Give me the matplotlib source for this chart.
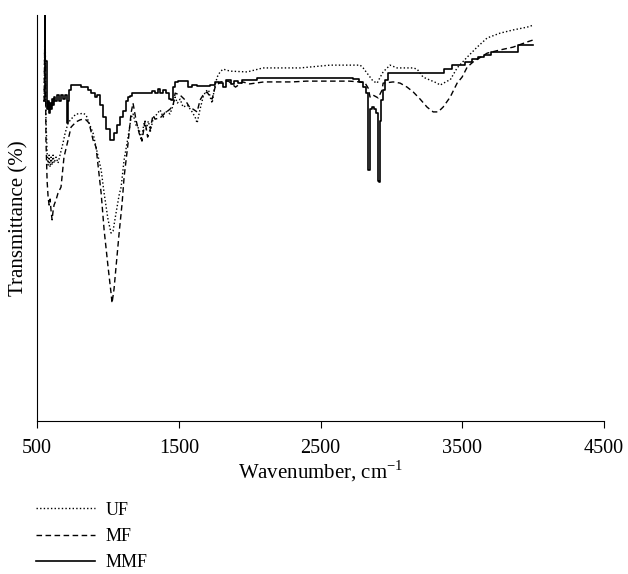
"""FTIR spectra of UF, MF and MMF resins (transmittance vs wavenumber)."""

import matplotlib
matplotlib.use("Agg")
import matplotlib.pyplot as plt  # noqa: E402

plt.rcParams["font.family"] = ["Liberation Serif", "DejaVu Serif"]
plt.rcParams["mathtext.fontset"] = "custom"
plt.rcParams["mathtext.rm"] = "Liberation Serif"

# ---- data (wavenumber cm-1, transmittance a.u.) ----
uf_wn = [550, 556, 563, 571, 578, 585, 592, 599, 606, 613, 620, 634, 648, 655,
         669, 683, 698, 719, 740, 754, 775, 803, 825, 846, 867, 895, 916, 952,
         973, 1001, 1022, 1036, 1057, 1079, 1093, 1114, 1142, 1163, 1177, 1198,
         1220, 1234, 1255, 1270, 1285, 1300, 1318, 1340, 1368, 1390, 1403, 1438,
         1460, 1474, 1490, 1509, 1530, 1560, 1590, 1615, 1629, 1650, 1671, 1690,
         1710, 1721, 1735, 1750, 1770, 1791, 1812, 1862, 1982, 2094, 2356, 2567,
         2779, 2800, 2849, 2870, 2899, 2913, 2941, 2990, 3040, 3153, 3181, 3223,
         3322, 3343, 3393, 3414, 3463, 3534, 3604, 3675, 3766, 3858, 3957, 4000]
uf_t = [80, 101.5, 75, 67, 64, 66.5, 63.5, 66, 64, 66.5, 64.5, 66, 64.5, 65.5,
        67.5, 69.5, 72, 74.5, 75.5, 76, 76.8, 76.8, 77, 76.5, 74.5, 72, 68.5, 62.8,
        57, 50.3, 47, 47.5, 52, 56.5, 58.5, 65.3, 71, 75.8, 76.8, 74,
        73, 70.3, 74.5, 73, 75, 72.5, 75.5, 76.5, 77.8, 76, 77.5, 76.8,
        79, 81, 79.5, 80.5, 78.5, 79, 77.5, 76, 74.5, 78, 81, 82.5,
        82.8, 81, 79.5, 83, 86, 87.3, 88, 87.5, 87.3, 88.3, 88.3, 89,
        89, 88.3, 86, 85, 84.5, 85.5, 87.3, 89, 88.3, 88.3, 88, 86,
        84.5, 84, 85, 85.3, 88.3, 91, 93.5, 95.8, 97, 97.8, 98.5, 99]

mf_wn = [550, 556, 563, 571, 578, 585, 592, 599, 606, 613, 620, 634, 648, 669,
         690, 719, 740, 775, 803, 825, 846, 867, 895, 916, 952, 973, 1001, 1022,
         1029, 1043, 1057, 1079, 1100, 1114, 1142, 1163, 1177, 1198, 1220, 1240,
         1262, 1280, 1297, 1318, 1332, 1368, 1403, 1438, 1460, 1474, 1509, 1544,
         1579, 1600, 1629, 1650, 1671, 1699, 1721, 1735, 1756, 1791, 1850, 1900,
         1950, 2000, 2100, 2200, 2300, 2400, 2500, 2600, 2700, 2779, 2814, 2835,
         2849, 2870, 2906, 2934, 2941, 3012, 3061, 3110, 3153, 3202, 3251, 3294,
         3329, 3364, 3414, 3463, 3498, 3534, 3576, 3675, 3766, 3858, 3957, 4000]
mf_t = [80, 101.5, 70, 60, 56, 54, 55.5, 52.5, 50.3, 52.5, 54, 55.3, 57, 58.5,
        66, 70.3, 73.5, 74.8, 75.3, 75.5, 75.3, 74.5, 70.3, 68.5, 57, 47.8, 38.5, 32,
        29.5, 33, 38.5, 47, 54.5, 61, 69.5, 77, 79.5, 75.3, 72, 70,
        75, 71, 72.8, 76.5, 75.5, 75.8, 77, 78, 79, 82, 81.5, 80.3,
        78.3, 78, 77.3, 80.3, 81.5, 82.3, 81, 80.5, 83.5, 84.8, 85, 83.5,
        84.8, 84.3, 84.8, 84.8, 84.8, 85, 85, 85, 85, 84.8, 84.5, 83.3,
        81, 81.5, 80.8, 82.8, 84.5, 84.8, 84.5, 83.5, 82.3, 80.5, 78.5, 77.3,
        77.3, 78.5, 81, 84.5, 86, 88.5, 89.8, 92, 92.8, 93.5, 94.8, 95.3]

mmf_wn = [550, 556, 563, 571, 578, 585, 592, 599, 606, 613, 620, 634, 648, 662,
          676, 690, 705, 712, 719, 733, 747, 775, 800, 825, 846, 867, 895, 916,
          930, 952, 973, 1001, 1022, 1036, 1050, 1071, 1093, 1114, 1135, 1149,
          1163, 1177, 1300, 1318, 1340, 1360, 1380, 1400, 1417, 1438, 1452, 1466,
          1474, 1509, 1544, 1579, 1600, 1650, 1700, 1735, 1770, 1800, 1820, 1850,
          1880, 1900, 1930, 1960, 2000, 2100, 2200, 2300, 2400, 2500, 2600, 2700,
          2758, 2790, 2814, 2828, 2835, 2842, 2849, 2870, 2885, 2899, 2906, 2913,
          2920, 2934, 2948, 2962, 2990, 3100, 3200, 3300, 3364, 3370, 3420, 3440,
          3505, 3530, 3600, 3625, 3680, 3717, 3800, 3886, 3900, 4000]
mmf_t = [80, 101.5, 90, 78, 80, 77, 79.5, 78, 80.5, 79, 81, 80, 81.5, 80,
         81.5, 80.5, 81.5, 74.5, 80, 82.8, 84, 84, 84, 83.5, 83.5, 82.8, 82, 81,
         81.5, 79, 76, 73, 70.3, 70.3, 72, 74, 76, 77.5, 80, 81,
         81.3, 82, 82, 82.5, 82, 83, 82, 82.8, 82, 80.5, 80.3, 83.5,
         84.8, 85, 85, 83.5, 84, 83.8, 83.8, 84, 84.8, 84.5, 83.5, 85.3,
         84.3, 85, 84.5, 85.3, 85.3, 85.8, 85.8, 85.8, 85.8, 85.8, 85.8, 85.8,
         85.5, 84.8, 83.5, 82, 62.8, 62.8, 78, 78.5, 78, 77, 60, 59.8,
         75, 80.3, 82.8, 85.3, 87, 87, 87, 87, 87, 88, 88, 89,
         89, 89.8, 90.5, 91, 91.5, 92.3, 92.3, 92.3, 94, 94]

labels = ["UF", "MF", "MMF"]
x_ticks = [500, 1500, 2500, 3500, 4500]


def main():
    fig = plt.figure(figsize=(6.28, 5.74), dpi=100)
    ax = fig.add_axes([0.059, 0.2666, 0.903, 0.707])

    l1, = ax.plot(uf_wn, uf_t, color="black", lw=1.0, ls=(0, (1, 1.6)))
    l2, = ax.plot(mf_wn, mf_t, color="black", lw=1.0, ls=(0, (4, 2.5)))
    l3, = ax.plot(mmf_wn, mmf_t, color="black", lw=1.2, drawstyle="steps-mid")

    ax.set_xlim(500, 4500)
    ax.set_ylim(0, 101.5)
    ax.set_xticks(x_ticks)
    ax.set_yticks([])
    ax.tick_params(axis="x", direction="out", length=5, pad=8, labelsize=14.5)
    for s in ("top", "right"):
        ax.spines[s].set_visible(False)

    ax.set_xlabel(r"Wavenumber, cm$^{\mathrm{-1}}$", fontsize=15, labelpad=0)
    ax.set_ylabel("Transmittance (%)", fontsize=15, labelpad=6)

    fig.legend([l1, l2, l3], labels, loc="upper left",
               bbox_to_anchor=(0.057, 0.126), frameon=False, fontsize=13,
               handlelength=3.3, handletextpad=0.55, labelspacing=0.52,
               borderpad=0, borderaxespad=0)

    fig.savefig("out.png", dpi=100)
    plt.close(fig)


if __name__ == "__main__":
    main()
